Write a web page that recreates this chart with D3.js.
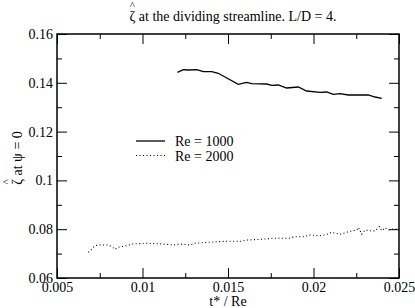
<!DOCTYPE html>
<html>
<head>
<meta charset="utf-8">
<script src="https://cdn.jsdelivr.net/npm/d3@7"></script>
<style>
  body { margin: 0; background: #fff; }
  svg { display: block; }
  text { font-family: "Liberation Serif", "Times New Roman", serif; }
</style>
</head>
<body>
<div id="chart"></div>
<script>
// Re = 1000 (solid)
const re1000X = [0.01204, 0.01239, 0.01268, 0.01317, 0.01356, 0.01405, 0.01443, 0.0156, 0.01609, 0.01639,
  0.01726, 0.01756, 0.01794, 0.01843, 0.01911, 0.0196, 0.02038, 0.02077, 0.02116, 0.02155,
  0.02204, 0.0232, 0.0236, 0.02399];
const re1000Y = [0.1443, 0.14537, 0.14525, 0.14537, 0.14455, 0.14455, 0.1439, 0.13939, 0.1402, 0.13963,
  0.13951, 0.13898, 0.1391, 0.13787, 0.13828, 0.13664, 0.1361, 0.13623, 0.13529, 0.13553,
  0.135, 0.135, 0.13418, 0.13365];

// Re = 2000 (dotted)
const re2000X = [0.00683, 0.00703, 0.00722, 0.00751, 0.0080, 0.0082, 0.00839, 0.00858, 0.00908, 0.00937,
  0.01025, 0.01083, 0.01142, 0.0118, 0.01219, 0.01278, 0.01307, 0.01385, 0.01482, 0.0158,
  0.01609, 0.01697, 0.01756, 0.01853, 0.01892, 0.0194, 0.0198, 0.02038, 0.02067, 0.02106,
  0.02155, 0.02204, 0.02253, 0.02263, 0.02282, 0.02301, 0.0233, 0.0236, 0.02385, 0.02399,
  0.02418, 0.02437, 0.02467, 0.02496];
const re2000Y = [0.07053, 0.07176, 0.07324, 0.07352, 0.07352, 0.07283, 0.07176, 0.07258, 0.07324, 0.07393,
  0.07422, 0.07406, 0.07381, 0.07352, 0.07393, 0.07352, 0.07422, 0.07463, 0.07504, 0.07504,
  0.07557, 0.07586, 0.07627, 0.07627, 0.07693, 0.07693, 0.07762, 0.07734, 0.07762, 0.07873,
  0.07791, 0.07898, 0.07967, 0.08078, 0.07791, 0.07967, 0.07939, 0.07926, 0.08102, 0.07939,
  0.08061, 0.07967, 0.08008, 0.08008];

const xTicks = [0.005, 0.01, 0.015, 0.02, 0.025];
const xMinor = [0.0075, 0.0125, 0.0175, 0.0225];
const yTicks = [0.06, 0.08, 0.1, 0.12, 0.14, 0.16];
const yMinor = [0.07, 0.09, 0.11, 0.13, 0.15];
const legendLabels = ['Re = 1000', 'Re = 2000'];

const w = 415, h = 308;
const margin = {top: 34, right: 16, bottom: 30, left: 57};
const serif = '"Liberation Serif", "Times New Roman", serif';
const fmt = d => String(+d.toFixed(4));

const svg = d3.select('#chart').append('svg')
  .attr('width', w)
  .attr('height', h);

const xScale = d3.scaleLinear().domain([0.005, 0.025]).range([margin.left, w - margin.right]);
const yScale = d3.scaleLinear().domain([0.06, 0.16]).range([h - margin.bottom, margin.top]);

// axes, ticks point inwards on all four sides
function addAxis(axis, tx, ty, labels) {
  const g = svg.append('g')
    .attr('transform', 'translate(' + tx + ',' + ty + ')')
    .call(axis)
    .attr('font-family', serif)
    .attr('font-size', 14);
  g.select('.domain').remove();
  g.selectAll('line').attr('stroke', '#000').attr('stroke-width', 1);
  if (!labels) g.selectAll('text').remove();
  g.selectAll('text').attr('fill', '#000');
  return g;
}
const yb = h - margin.bottom, yt = margin.top, xl = margin.left, xr = w - margin.right;

addAxis(d3.axisBottom(xScale).tickValues(xTicks).tickSize(-10).tickPadding(4).tickFormat(fmt), 0, yb, true);
addAxis(d3.axisBottom(xScale).tickValues(xMinor).tickSize(-5).tickFormat(''), 0, yb, false);
addAxis(d3.axisTop(xScale).tickValues(xTicks).tickSize(-10).tickFormat(''), 0, yt, false);
addAxis(d3.axisTop(xScale).tickValues(xMinor).tickSize(-5).tickFormat(''), 0, yt, false);
addAxis(d3.axisLeft(yScale).tickValues(yTicks).tickSize(-10).tickPadding(4).tickFormat(fmt), xl, 0, true);
addAxis(d3.axisLeft(yScale).tickValues(yMinor).tickSize(-5).tickFormat(''), xl, 0, false);
addAxis(d3.axisRight(yScale).tickValues(yTicks).tickSize(-10).tickFormat(''), xr, 0, false);
addAxis(d3.axisRight(yScale).tickValues(yMinor).tickSize(-5).tickFormat(''), xr, 0, false);

svg.append('rect')
  .attr('x', xl).attr('y', yt)
  .attr('width', xr - xl).attr('height', yb - yt)
  .attr('fill', 'none').attr('stroke', '#000').attr('stroke-width', 1.5);

// data lines
const line = d3.line().x(d => xScale(d[0])).y(d => yScale(d[1]));
svg.append('path')
  .datum(d3.zip(re1000X, re1000Y))
  .attr('d', line)
  .attr('fill', 'none').attr('stroke', '#000').attr('stroke-width', 1.3);
svg.append('path')
  .datum(d3.zip(re2000X, re2000Y))
  .attr('d', line)
  .attr('fill', 'none').attr('stroke', '#000').attr('stroke-width', 1.1)
  .attr('stroke-dasharray', '1,2.5');

// legend
const legend = svg.append('g').attr('transform', 'translate(136,141)');
legendLabels.forEach((lab, i) => {
  legend.append('line')
    .attr('x1', 0).attr('x2', 29).attr('y1', i * 14.5).attr('y2', i * 14.5)
    .attr('stroke', '#000').attr('stroke-width', i ? 1.1 : 1.3)
    .attr('stroke-dasharray', i ? '1,2.5' : null);
  legend.append('text')
    .attr('x', 39).attr('y', i * 14.5 + 5)
    .attr('font-size', 14)
    .text(lab);
});

// text with a hat over the leading zeta
function hatText(g, cx, baseline, rest) {
  const t = g.append('text')
    .attr('y', baseline)
    .attr('font-size', 14)
    .text('ζ' + rest);
  const len = t.node().getComputedTextLength();
  const x0 = cx - len / 2;
  t.attr('x', x0);
  const zw = t.node().getSubStringLength(0, 1);
  g.append('text')
    .attr('x', x0 + zw / 2).attr('y', baseline - 12)
    .attr('text-anchor', 'middle')
    .attr('font-size', 11)
    .text('^');
}

hatText(svg, 233, 21, ' at the dividing streamline. L/D = 4.');

const ylab = svg.append('g').attr('transform', 'translate(22,158) rotate(-90)');
hatText(ylab, 0, 0, ' at ψ = 0');

svg.append('text')
  .attr('x', 228).attr('y', 306)
  .attr('text-anchor', 'middle')
  .attr('font-size', 14)
  .text('t* / Re');
</script>
</body>
</html>
